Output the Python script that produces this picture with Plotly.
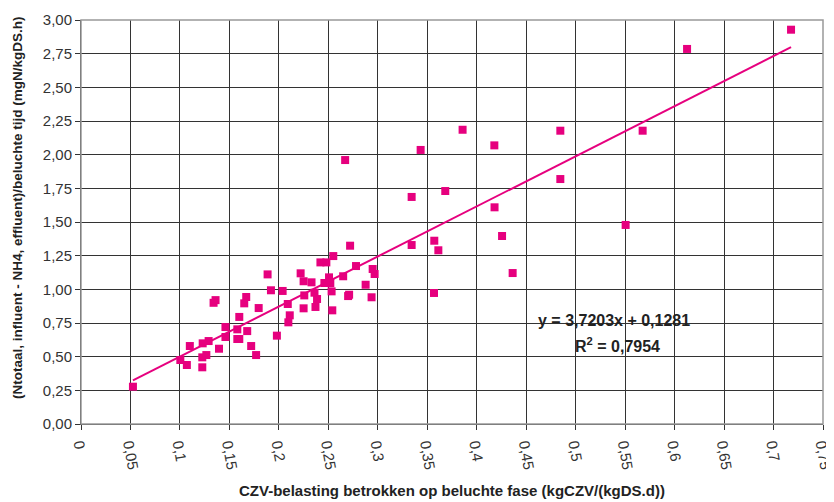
import plotly.graph_objects as go

# Data
x_vals = [0.0525, 0.1886, 0.192, 0.134, 0.136, 0.167, 0.165, 0.1796, 0.160, 0.198,
          0.146, 0.158, 0.168, 0.146, 0.158, 0.160, 0.172, 0.177, 0.129, 0.123,
          0.110, 0.1395, 0.1226, 0.1267, 0.1004, 0.107, 0.1226,
          0.267, 0.272, 0.255, 0.242, 0.248, 0.278, 0.2948, 0.2968, 0.222, 0.225,
          0.233, 0.2507, 0.246, 0.252, 0.265, 0.2877, 0.2533, 0.236, 0.2386, 0.2257,
          0.271, 0.270, 0.2937, 0.2038, 0.209, 0.211, 0.2096, 0.225, 0.237, 0.254,
          0.3857, 0.4845, 0.3433, 0.4178, 0.4845, 0.3342, 0.3682, 0.418, 0.5505,
          0.3342, 0.3571, 0.3612, 0.4256, 0.4363, 0.3568,
          0.7177, 0.6126, 0.5677]
y_vals = [0.277, 1.111, 0.993, 0.90, 0.92, 0.943, 0.896, 0.861, 0.795, 0.656,
          0.720, 0.703, 0.690, 0.646, 0.631, 0.631, 0.579, 0.512, 0.616, 0.599,
          0.579, 0.559, 0.495, 0.512, 0.475, 0.438, 0.421,
          1.96, 1.324, 1.247, 1.20, 1.20, 1.173, 1.151, 1.114, 1.119, 1.06,
          1.052, 1.089, 1.047, 1.047, 1.097, 1.034, 0.985, 0.975, 0.928, 0.955,
          0.96, 0.95, 0.941, 0.988, 0.891, 0.807, 0.755, 0.859, 0.869, 0.844,
          2.185, 2.178, 2.035, 2.069, 1.819, 1.686, 1.730, 1.609, 1.478,
          1.329, 1.361, 1.29, 1.396, 1.121, 0.973,
          2.928, 2.785, 2.178]

slope = 3.7203
intercept = 0.1281
fit_x = [min(x_vals), max(x_vals)]
fit_y = [slope * v + intercept for v in fit_x]

x_ticks = [i * 0.05 for i in range(16)]
x_tick_text = ["0", "0,05", "0,1", "0,15", "0,2", "0,25", "0,3", "0,35", "0,4",
               "0,45", "0,5", "0,55", "0,6", "0,65", "0,7", "0,75"]
y_ticks = [i * 0.25 for i in range(13)]
y_tick_text = ["0,00", "0,25", "0,50", "0,75", "1,00", "1,25", "1,50", "1,75",
               "2,00", "2,25", "2,50", "2,75", "3,00"]

x_title = "CZV-belasting betrokken op beluchte fase (kgCZV/(kgDS.d))"
y_title = "(Ntotaal, influent - NH4, effluent)/beluchte tijd (mgN/kgDS.h)"
eq_text = "y = 3,7203x + 0,1281"
r2_text = "R<sup>2</sup> = 0,7954"

col = "#E6007E"
font = "Liberation Sans, Arial, sans-serif"
OFF = 8  # page body margin offset
W, H = 834 - OFF, 502 - OFF
pl, pr, pt, pb = 81 - OFF, 823 - OFF, 20 - OFF, 424 - OFF


def px2paper(px, py):
    px -= OFF
    py -= OFF
    return (px - pl) / (pr - pl), 1 - (py - pt) / (pb - pt)


fig = go.Figure()
fig.add_trace(go.Scatter(x=x_vals, y=y_vals, mode="markers",
                         marker=dict(symbol="square", size=8, color=col),
                         showlegend=False))
fig.add_trace(go.Scatter(x=fit_x, y=fit_y, mode="lines",
                         line=dict(color=col, width=2), showlegend=False))

ex, ey = px2paper(614, 320)
rx, ry = px2paper(617, 345)
xtx, xty = px2paper(452, 491)
ytx, yty = px2paper(17, 208)

fig.update_layout(
    width=W, height=H,
    margin=dict(l=pl, r=W - pr, t=pt, b=H - pb, autoexpand=False),
    paper_bgcolor="white", plot_bgcolor="white",
    font=dict(family=font, size=14, color="#222"),
    xaxis=dict(range=[0, 0.75], tickvals=x_ticks, ticktext=x_tick_text,
               tickangle=80, ticks="outside", ticklen=5, tickcolor="#333",
               ticklabeloverflow="allow",
               showgrid=True, gridcolor="#333", gridwidth=1,
               showline=True, linecolor="#333", linewidth=1,
               zeroline=False, automargin=False,
               tickfont=dict(size=15, color="#333")),
    yaxis=dict(range=[0, 3], tickvals=y_ticks, ticktext=y_tick_text,
               ticks="outside", ticklen=5, tickcolor="#333",
               showgrid=True, gridcolor="#333", gridwidth=1,
               showline=True, linecolor="#333", linewidth=1,
               zeroline=False, automargin=False,
               tickfont=dict(size=15, color="#333")),
    shapes=[dict(type="rect", xref="paper", yref="paper", x0=0, y0=0, x1=1, y1=1,
                 line=dict(color="#999", width=1.5), fillcolor="rgba(0,0,0,0)")],
    annotations=[
        dict(text="<b>" + eq_text + "</b>", x=ex, y=ey, xref="paper", yref="paper",
             xanchor="center", yanchor="middle", showarrow=False,
             font=dict(size=16, color="#222")),
        dict(text="<b>" + r2_text + "</b>", x=rx, y=ry, xref="paper", yref="paper",
             xanchor="center", yanchor="middle", showarrow=False,
             font=dict(size=16, color="#222")),
        dict(text="<b>" + x_title + "</b>", x=xtx, y=xty, xref="paper", yref="paper",
             xanchor="center", yanchor="middle", showarrow=False,
             font=dict(size=15, color="#222")),
        dict(text="<b>" + y_title + "</b>", x=ytx, y=yty, xref="paper", yref="paper",
             xanchor="center", yanchor="middle", showarrow=False, textangle=-90,
             font=dict(size=13.5, color="#222")),
    ],
)

fig.write_html("out.html")
